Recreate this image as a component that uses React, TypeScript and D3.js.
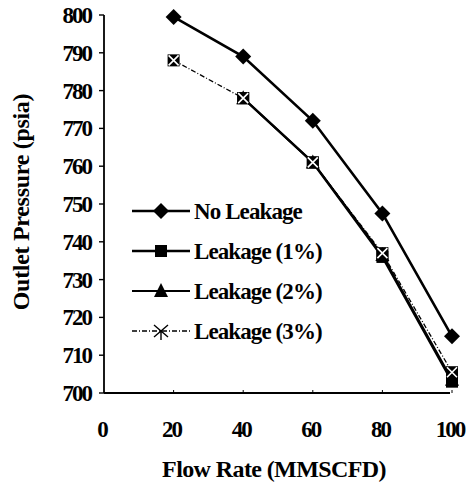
import React, { useRef, useEffect } from 'react';
import * as d3 from 'd3';

const flowRates = [20, 40, 60, 80, 100];
const noLeakage = [799.5, 789, 772, 747.5, 715];
const leakage1 = [null, 778, 761, 736, 703];
const leakage2 = [null, 778, 761, 736.5, 703.5];
const leakage3 = [788, 778, 761, 737, 705.5];
const xTicks = [0, 20, 40, 60, 80, 100];
const yTicks = [700, 710, 720, 730, 740, 750, 760, 770, 780, 790, 800];

const series = [
    { name: 'No Leakage', values: noLeakage, marker: 'diamond', width: 2.6, dash: null },
    { name: 'Leakage (1%)', values: leakage1, marker: 'square', width: 2.4, dash: null },
    { name: 'Leakage (2%)', values: leakage2, marker: 'triangle', width: 2, dash: null },
    { name: 'Leakage (3%)', values: leakage3, marker: 'cross', width: 1.3, dash: '5,2,1,2' },
];

const FONT = '"Liberation Serif", "DejaVu Serif", serif';

function drawMarker(g: any, type: string, cx: number, cy: number, inPlot: boolean) {
    if (type === 'diamond') {
        g.append('path')
            .attr('d', `M${cx},${cy - 8} L${cx + 8},${cy} L${cx},${cy + 8} L${cx - 8},${cy} Z`)
            .attr('fill', '#000');
    } else if (type === 'square') {
        g.append('rect')
            .attr('x', cx - 6).attr('y', cy - 6)
            .attr('width', 12).attr('height', 12)
            .attr('fill', '#000');
    } else if (type === 'triangle') {
        g.append('path')
            .attr('d', `M${cx},${cy - 8} L${cx + 7},${cy + 6} L${cx - 7},${cy + 6} Z`)
            .attr('fill', '#000');
    } else if (inPlot) {
        // the scanned marker reads as a dark box with a light cross through it
        g.append('rect')
            .attr('x', cx - 6).attr('y', cy - 6)
            .attr('width', 12).attr('height', 12)
            .attr('fill', '#000');
        g.append('path')
            .attr('d', `M${cx - 5},${cy - 5} L${cx + 5},${cy + 5} M${cx + 5},${cy - 5} L${cx - 5},${cy + 5}`)
            .attr('stroke', '#fff')
            .attr('stroke-width', 1.6)
            .attr('fill', 'none');
    } else {
        g.append('path')
            .attr('d', `M${cx - 7},${cy - 6} L${cx + 7},${cy + 6} M${cx + 7},${cy - 6} L${cx - 7},${cy + 6} M${cx},${cy} L${cx},${cy + 9}`)
            .attr('stroke', '#000')
            .attr('stroke-width', 1.4)
            .attr('fill', 'none');
    }
}

export default function App() {
    const ref = useRef<SVGSVGElement>(null);

    useEffect(() => {
        if (!ref.current) return;
        const svg = d3.select(ref.current);
        svg.selectAll('*').remove();

        const x = d3.scaleLinear().domain([0, 100]).range([104, 452]);
        const y = d3.scaleLinear().domain([700, 800]).range([393, 15]);

        // axes
        svg.append('line')
            .attr('x1', x(0)).attr('x2', x(0))
            .attr('y1', y(800)).attr('y2', y(700))
            .attr('stroke', '#000').attr('stroke-width', 1.8);
        svg.append('line')
            .attr('x1', x(0)).attr('x2', x(100) - 2)
            .attr('y1', y(700)).attr('y2', y(700))
            .attr('stroke', '#000').attr('stroke-width', 1.8);

        yTicks.forEach(t => {
            svg.append('line')
                .attr('x1', x(0) - 5).attr('x2', x(0))
                .attr('y1', y(t)).attr('y2', y(t))
                .attr('stroke', '#000').attr('stroke-width', 1.4);
            svg.append('text')
                .attr('x', 91).attr('y', y(t) + 8)
                .attr('text-anchor', 'end')
                .attr('font-family', FONT).attr('font-size', 23)
                .attr('font-weight', 'bold')
                .attr('letter-spacing', -2)
                .text(t);
        });

        xTicks.forEach(t => {
            if (t > 0) {
                svg.append('line')
                    .attr('x1', x(t)).attr('x2', x(t))
                    .attr('y1', y(700)).attr('y2', y(700) - 3)
                    .attr('stroke', '#000').attr('stroke-width', 1);
            }
            svg.append('text')
                .attr('x', x(t) - 2).attr('y', 437)
                .attr('text-anchor', 'middle')
                .attr('font-family', FONT).attr('font-size', 23)
                .attr('font-weight', 'bold')
                .attr('letter-spacing', -2)
                .text(t);
        });

        // titles
        svg.append('text')
            .attr('transform', `translate(29,202) rotate(-90)`)
            .attr('text-anchor', 'middle')
            .attr('font-family', FONT).attr('font-size', 24)
            .attr('font-weight', 'bold')
            .attr('letter-spacing', -0.3)
            .text('Outlet Pressure (psia)');
        svg.append('text')
            .attr('x', 274).attr('y', 477)
            .attr('text-anchor', 'middle')
            .attr('font-family', FONT).attr('font-size', 24)
            .attr('font-weight', 'bold')
            .attr('letter-spacing', -0.6)
            .text('Flow Rate (MMSCFD)');

        // series: lines first, then markers so the 3% marks end up on top
        const line = d3.line<number | null>()
            .defined(d => d !== null)
            .x((d, i) => x(flowRates[i]))
            .y(d => y(d as number));
        series.forEach(s => {
            svg.append('path')
                .datum(s.values)
                .attr('d', line)
                .attr('fill', 'none')
                .attr('stroke', '#000')
                .attr('stroke-width', s.width)
                .attr('stroke-dasharray', s.dash);
        });
        series.forEach(s => {
            s.values.forEach((v, i) => {
                if (v !== null) drawMarker(svg, s.marker, x(flowRates[i]), y(v), true);
            });
        });

        // legend
        const legendY = [211, 251, 291, 331];
        series.forEach((s, i) => {
            const ly = legendY[i];
            svg.append('line')
                .attr('x1', 132).attr('x2', 190)
                .attr('y1', ly).attr('y2', ly)
                .attr('stroke', '#000')
                .attr('stroke-width', s.width)
                .attr('stroke-dasharray', s.dash);
            drawMarker(svg, s.marker, 161, ly, false);
            svg.append('text')
                .attr('x', 194).attr('y', ly + 8)
                .attr('font-family', FONT).attr('font-size', 23)
                .attr('font-weight', 'bold')
                .attr('letter-spacing', -0.9)
                .text(s.name);
        });
    }, []);

    return (
        <svg ref={ref} width={469} height={491}
            style={{ position: 'absolute', left: 0, top: 0, background: '#fff' }} />
    );
}
